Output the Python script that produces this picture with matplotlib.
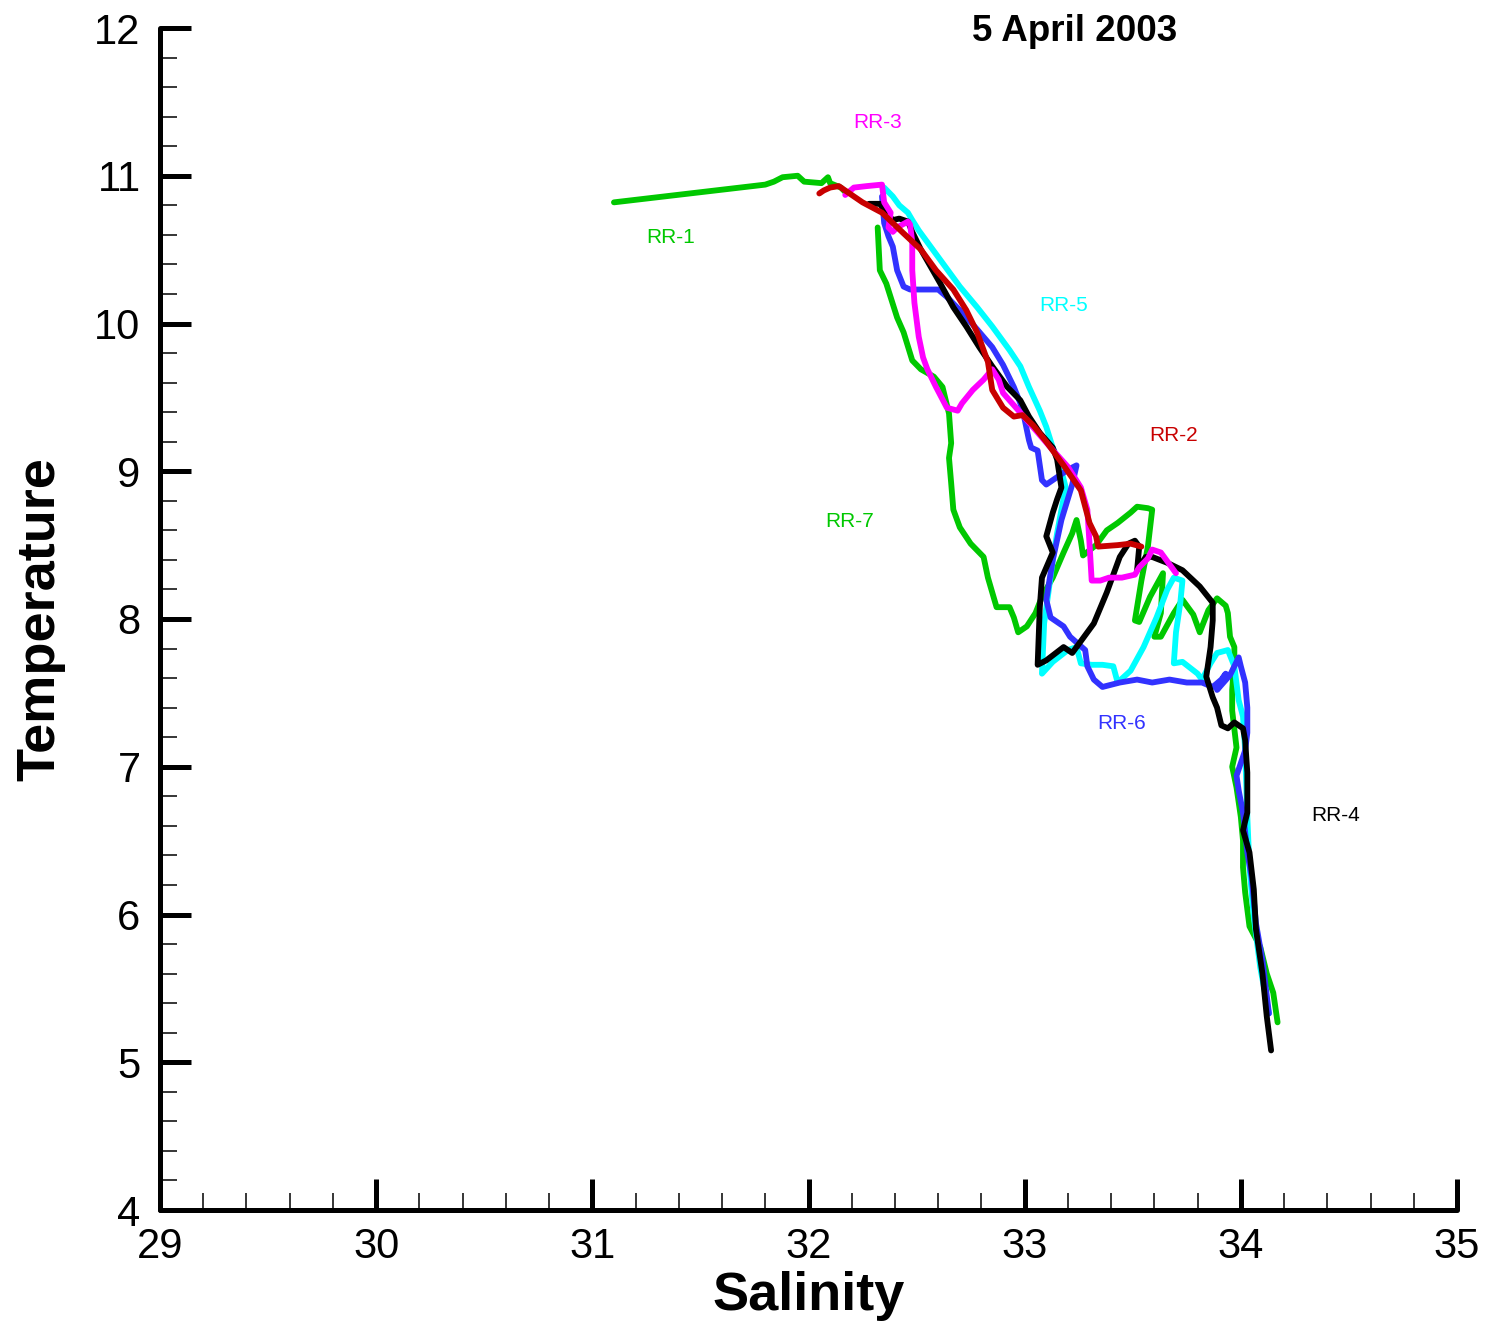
import matplotlib
matplotlib.use("Agg")
import matplotlib.pyplot as plt
from matplotlib.ticker import MultipleLocator

plt.rcParams['font.family'] = ['Liberation Sans', 'DejaVu Sans']

# station profiles, salinity (psu) / temperature (C)
rr1_s = [31.10, 31.80, 31.84, 31.88, 31.95, 31.98, 32.06, 32.09, 32.10, 32.15, 32.17]
rr1_t = [10.82, 10.94, 10.96, 10.99, 11.00, 10.96, 10.95, 10.99, 10.95, 10.92, 10.89]

rr7_s = [32.32, 32.33, 32.36, 32.41, 32.44, 32.48, 32.52, 32.58, 32.62, 32.65, 32.66, 32.65,
         32.66, 32.67, 32.70, 32.75, 32.81, 32.83, 32.85, 32.87, 32.93, 32.95, 32.97, 33.01,
         33.05, 33.08, 33.13, 33.18, 33.22, 33.24, 33.26, 33.27, 33.33, 33.38, 33.43, 33.49,
         33.52, 33.57, 33.59, 33.57, 33.54, 33.51, 33.53, 33.58, 33.64, 33.63, 33.60, 33.63,
         33.69, 33.73, 33.78, 33.81, 33.85, 33.89, 33.93, 33.94, 33.95, 33.97, 33.97, 33.96,
         33.96, 33.98, 33.96, 33.98, 34.00, 34.01, 34.01, 34.02, 34.04, 34.09, 34.12, 34.15, 34.17]
rr7_t = [10.65, 10.36, 10.27, 10.04, 9.94, 9.75, 9.69, 9.64, 9.57, 9.39, 9.19, 9.09,
         8.92, 8.74, 8.62, 8.51, 8.42, 8.28, 8.18, 8.08, 8.08, 8.01, 7.91, 7.95,
         8.04, 8.15, 8.28, 8.45, 8.58, 8.67, 8.53, 8.43, 8.50, 8.60, 8.65, 8.72,
         8.76, 8.75, 8.74, 8.49, 8.26, 7.99, 7.98, 8.15, 8.31, 8.04, 7.88, 7.88,
         8.04, 8.13, 8.03, 7.91, 8.06, 8.14, 8.09, 8.04, 7.88, 7.81, 7.72, 7.52,
         7.38, 7.13, 7.00, 6.86, 6.66, 6.50, 6.32, 6.15, 5.92, 5.78, 5.60, 5.47, 5.27]

rr5_s = [32.35, 32.39, 32.42, 32.46, 32.48, 32.51, 32.55, 32.62, 32.70, 32.78, 32.85, 32.93,
         32.98, 33.02, 33.07, 33.10, 33.13, 33.16, 33.19, 33.17, 33.15, 33.13, 33.11, 33.09,
         33.08, 33.13, 33.20, 33.24, 33.26, 33.31, 33.36, 33.41, 33.43, 33.49, 33.55, 33.61,
         33.66, 33.69, 33.73, 33.72, 33.70, 33.69, 33.73, 33.80, 33.82, 33.86, 33.89, 33.94,
         33.97, 33.99, 34.01, 34.02, 34.03, 34.04, 34.06, 34.09, 34.13]
rr5_t = [10.92, 10.86, 10.80, 10.75, 10.70, 10.63, 10.55, 10.41, 10.25, 10.11, 9.98, 9.82,
         9.71, 9.57, 9.41, 9.30, 9.16, 9.06, 8.89, 8.74, 8.58, 8.40, 8.18, 7.97,
         7.63, 7.71, 7.79, 7.81, 7.70, 7.69, 7.69, 7.68, 7.57, 7.65, 7.81, 8.01,
         8.20, 8.28, 8.26, 8.11, 7.91, 7.70, 7.71, 7.63, 7.59, 7.70, 7.77, 7.79,
         7.68, 7.45, 7.34, 7.11, 6.66, 6.32, 5.98, 5.64, 5.33]

rr6_s = [32.34, 32.35, 32.37, 32.39, 32.41, 32.44, 32.47, 32.60, 32.64, 32.70, 32.78, 32.85,
         32.90, 32.95, 32.98, 33.00, 33.02, 33.03, 33.06, 33.07, 33.08, 33.10, 33.15, 33.20,
         33.24, 33.22, 33.17, 33.13, 33.10, 33.12, 33.18, 33.21, 33.28, 33.29, 33.32, 33.36,
         33.44, 33.52, 33.59, 33.67, 33.75, 33.82, 33.87, 33.91, 33.93, 33.89, 33.95, 33.99,
         34.00, 34.02, 34.03, 34.03, 34.02, 33.98, 33.99, 34.01, 34.03, 34.05, 34.07, 34.10, 34.13]
rr6_t = [10.86, 10.68, 10.59, 10.52, 10.36, 10.25, 10.23, 10.23, 10.18, 10.09, 9.96, 9.84,
         9.72, 9.57, 9.46, 9.35, 9.21, 9.16, 9.14, 9.04, 8.94, 8.91, 8.96, 9.01,
         9.04, 8.91, 8.67, 8.40, 8.13, 8.01, 7.95, 7.88, 7.79, 7.68, 7.59, 7.54,
         7.57, 7.59, 7.57, 7.59, 7.57, 7.57, 7.54, 7.59, 7.63, 7.52, 7.62, 7.74,
         7.68, 7.57, 7.40, 7.23, 7.11, 6.94, 6.84, 6.69, 6.42, 6.25, 5.94, 5.69, 5.33]

rr4_s = [32.28, 32.33, 32.36, 32.39, 32.42, 32.46, 32.48, 32.52, 32.61, 32.67, 32.73, 32.79,
         32.85, 32.92, 32.98, 33.02, 33.07, 33.10, 33.13, 33.15, 33.17, 33.15, 33.13, 33.10,
         33.13, 33.08, 33.07, 33.06, 33.10, 33.18, 33.22, 33.32, 33.38, 33.44, 33.48, 33.51,
         33.53, 33.52, 33.56, 33.59, 33.66, 33.73, 33.81, 33.87, 33.87, 33.86, 33.84, 33.87,
         33.89, 33.91, 33.94, 33.97, 34.01, 34.02, 34.03, 34.03, 34.01, 34.04, 34.06, 34.07,
         34.10, 34.12, 34.14]
rr4_t = [10.81, 10.81, 10.75, 10.70, 10.71, 10.69, 10.62, 10.50, 10.27, 10.11, 9.98, 9.84,
         9.71, 9.57, 9.48, 9.37, 9.26, 9.21, 9.16, 9.08, 8.89, 8.81, 8.72, 8.56,
         8.45, 8.28, 8.08, 7.69, 7.72, 7.81, 7.77, 7.97, 8.18, 8.42, 8.51, 8.53,
         8.49, 8.33, 8.42, 8.42, 8.38, 8.33, 8.22, 8.11, 7.99, 7.81, 7.61, 7.47,
         7.40, 7.28, 7.26, 7.30, 7.26, 7.18, 6.96, 6.69, 6.57, 6.42, 6.17, 5.90,
         5.60, 5.31, 5.08]

rr3_s = [32.17, 32.21, 32.27, 32.34, 32.35, 32.38, 32.37, 32.39, 32.41, 32.46, 32.47, 32.48,
         32.48, 32.49, 32.51, 32.53, 32.55, 32.59, 32.64, 32.69, 32.71, 32.76, 32.81, 32.85,
         32.88, 32.90, 32.96, 33.02, 33.12, 33.20, 33.26, 33.29, 33.30, 33.31, 33.35, 33.39,
         33.45, 33.51, 33.53, 33.57, 33.59, 33.63, 33.66, 33.70]
rr3_t = [10.87, 10.92, 10.93, 10.94, 10.82, 10.75, 10.65, 10.62, 10.65, 10.69, 10.67, 10.55,
         10.36, 10.14, 9.91, 9.77, 9.69, 9.57, 9.43, 9.41, 9.46, 9.55, 9.62, 9.69,
         9.62, 9.53, 9.43, 9.33, 9.16, 9.03, 8.89, 8.74, 8.51, 8.26, 8.26, 8.28,
         8.28, 8.30, 8.35, 8.41, 8.47, 8.45, 8.39, 8.31]

rr2_s = [32.05, 32.07, 32.10, 32.14, 32.19, 32.25, 32.34, 32.44, 32.52, 32.59, 32.67, 32.73,
         32.78, 32.83, 32.85, 32.90, 32.95, 32.99, 33.04, 33.10, 33.18, 33.26, 33.30, 33.33,
         33.34, 33.43, 33.49, 33.54]
rr2_t = [10.88, 10.90, 10.92, 10.93, 10.88, 10.82, 10.75, 10.61, 10.50, 10.36, 10.23, 10.09,
         9.94, 9.74, 9.55, 9.43, 9.37, 9.38, 9.31, 9.20, 9.04, 8.87, 8.65, 8.56,
         8.49, 8.50, 8.51, 8.49]

names = ['RR-1', 'RR-7', 'RR-5', 'RR-6', 'RR-4', 'RR-3', 'RR-2']
colors = ['#00c800', '#00c800', '#00ffff', '#3232ff', '#000000', '#ff00ff', '#c80000']
series = [(rr1_s, rr1_t), (rr7_s, rr7_t), (rr5_s, rr5_t), (rr6_s, rr6_t),
          (rr4_s, rr4_t), (rr3_s, rr3_t), (rr2_s, rr2_t)]
# label anchor positions (salinity, temperature)
label_pos = [(31.36, 10.58), (32.19, 8.66), (33.18, 10.12), (33.45, 7.29),
             (34.44, 6.67), (32.32, 11.36), (33.69, 9.24)]

fig = plt.figure(figsize=(14.85, 13.22), dpi=100)
ax = fig.add_axes([160/1485, 1 - 1210/1322, 1297/1485, 1182/1322])

for (s, t), c in zip(series, colors):
    ax.plot(s, t, color=c, lw=4.2, solid_capstyle='round', solid_joinstyle='round')

for n, c, (x, y) in zip(names, colors, label_pos):
    ax.text(x, y, n, color=c, fontsize=15, ha='center', va='center')

ax.text(33.23, 11.975, '5 April 2003', fontsize=26.5, fontweight='bold',
        ha='center', va='center')

ax.set_xlim(29, 35)
ax.set_ylim(4, 12)
ax.xaxis.set_major_locator(MultipleLocator(1))
ax.xaxis.set_minor_locator(MultipleLocator(0.2))
ax.yaxis.set_major_locator(MultipleLocator(1))
ax.yaxis.set_minor_locator(MultipleLocator(0.2))

for side in ['top', 'right']:
    ax.spines[side].set_visible(False)
for side in ['left', 'bottom']:
    ax.spines[side].set_linewidth(3.6)
    ax.spines[side].set_capstyle('round')

ax.tick_params(which='major', direction='in', length=22, width=3.6,
               labelsize=30, pad=14)
ax.tick_params(which='minor', direction='in', length=12, width=1.1)
ax.tick_params(axis='x', which='major', pad=12)

ax.set_xlabel('Salinity', fontsize=39, fontweight='bold')
ax.set_ylabel('Temperature', fontsize=39, fontweight='bold')
ax.xaxis.set_label_coords(0.5, -0.052)
ax.yaxis.set_label_coords(-0.073, 0.5)

fig.savefig('out.png', dpi=100)
